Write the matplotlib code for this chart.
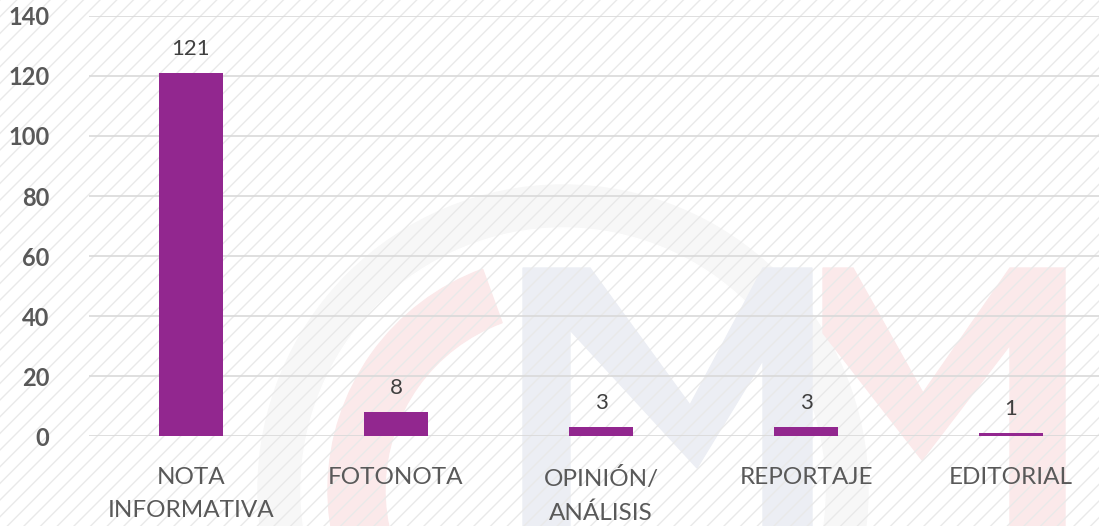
import matplotlib
matplotlib.use('Agg')
import matplotlib.pyplot as plt
from matplotlib.patches import Rectangle, Circle, Wedge, Polygon
from matplotlib.transforms import Affine2D

W, H = 1099, 526

categories = ['NOTA\nINFORMATIVA', 'FOTONOTA', 'OPINIÓN/\nANÁLISIS', 'REPORTAJE', 'EDITORIAL']
values = [121, 8, 3, 3, 1]
yticks = [0, 20, 40, 60, 80, 100, 120, 140]

BAR_COLOR = '#92278f'
TEXT_COLOR = '#595959'
LABEL_COLOR = '#404040'
GRID_COLOR = '#d9d9d9'

plt.rcParams['font.family'] = ['Lato', 'DejaVu Sans']

fig = plt.figure(figsize=(W / 100, H / 100), dpi=100)
fig.patch.set_facecolor('white')

# pixel coords (y down) -> figure fraction
px = Affine2D().scale(1 / W, -1 / H).translate(0, 1) + fig.transFigure

# faint logo watermark behind the chart
fig.add_artist(Circle((563, 490), 305, color='#f7f7f7', transform=px, zorder=0))
fig.add_artist(Circle((563, 490), 262, color='white', transform=px, zorder=0.1))
fig.add_artist(Wedge((563, 490), 235, 112, 250, width=57, color='#fbe9ea',
                     transform=px, zorder=0.2))
fig.add_artist(Polygon([(823, 268), (853, 268), (923, 393), (1010, 268), (1065, 268),
                        (1065, 600), (1010, 600), (1010, 345), (922, 460), (823, 333)],
                       closed=True, color='#fbe9ea', transform=px, zorder=0.2))
fig.add_artist(Polygon([(523, 268), (590, 268), (690, 405), (763, 268), (812, 268),
                        (812, 600), (763, 600), (763, 360), (697, 468), (570, 330),
                        (570, 600), (523, 600)],
                       closed=True, color='#eceef4', transform=px, zorder=0.3))

# diagonal hatch over the whole background
plt.rcParams['hatch.linewidth'] = 1.0
fig.add_artist(Rectangle((0, 0), 1, 1, transform=fig.transFigure, facecolor='none',
                         edgecolor='#e9e9e9', hatch='//', linewidth=0, zorder=0.5))

ax = fig.add_axes([88.5 / W, 90 / H, 1025 / W, 420 / H])
ax.set_facecolor('none')
ax.set_zorder(1)

x = list(range(len(categories)))
bars = ax.bar(x, values, width=0.312, color=BAR_COLOR, zorder=3)

for xi, v in zip(x, values):
    ax.annotate(str(v), (xi, v), xytext=(0, 10), textcoords='offset points',
                ha='center', va='bottom', fontsize=16, color=LABEL_COLOR)

ax.set_xlim(-0.5, len(categories) - 0.5)
ax.set_ylim(0, 140)
ax.set_yticks(yticks)
ax.set_yticklabels([str(t) for t in yticks], fontsize=17, fontweight='bold', color=TEXT_COLOR)
ax.set_xticks(x)
ax.set_xticklabels(categories, fontsize=17.5, color=TEXT_COLOR, linespacing=1.75)
ax.tick_params(axis='both', length=0)
ax.tick_params(axis='x', pad=22)
ax.tick_params(axis='y', pad=28)
ax.grid(axis='y', color=GRID_COLOR, linewidth=1.2, zorder=0)
ax.set_axisbelow(True)
for s in ax.spines.values():
    s.set_visible(False)

fig.savefig('out.png', dpi=100)
